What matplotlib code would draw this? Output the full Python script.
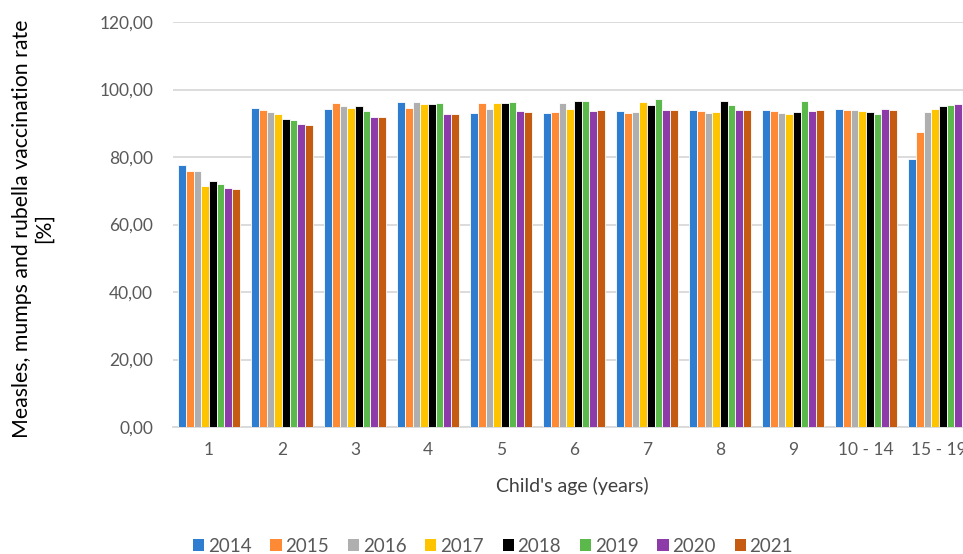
import matplotlib.pyplot as plt
import numpy as np
from matplotlib.patches import Patch

ages = ["1", "2", "3", "4", "5", "6", "7", "8", "9", "10 - 14", "15 - 19"]
years = ["2014", "2015", "2016", "2017", "2018", "2019", "2020", "2021"]

# vaccination rate per age group, one list per year
rate_2014 = [77.6, 94.6, 94.3, 96.3, 93.0, 93.0, 93.6, 93.9, 93.9, 94.2, 79.3]
rate_2015 = [76.0, 94.0, 96.0, 94.6, 96.0, 93.3, 93.0, 93.6, 93.6, 93.9, 87.5]
rate_2016 = [76.0, 93.4, 95.0, 96.3, 94.3, 96.0, 93.3, 93.0, 93.0, 93.9, 93.3]
rate_2017 = [71.4, 92.7, 94.6, 95.6, 96.0, 94.3, 96.3, 93.3, 92.7, 93.6, 94.3]
rate_2018 = [73.0, 91.4, 95.0, 95.7, 96.0, 96.6, 95.3, 96.6, 93.3, 93.3, 95.0]
rate_2019 = [72.1, 91.0, 93.6, 96.0, 96.3, 96.6, 97.2, 95.3, 96.6, 92.7, 95.3]
rate_2020 = [70.8, 89.8, 92.0, 92.7, 93.6, 93.6, 93.9, 93.9, 93.6, 94.2, 95.7]
rate_2021 = [70.4, 89.5, 92.0, 92.7, 93.3, 93.9, 93.9, 93.9, 93.9, 93.9, 94.6]

series = [rate_2014, rate_2015, rate_2016, rate_2017,
          rate_2018, rate_2019, rate_2020, rate_2021]
colors = ["#2E7DD0", "#FF8A35", "#AFAFAF", "#FFC400",
          "#000000", "#5BB84B", "#8E3BAA", "#C55A11"]

plt.rcParams['font.family'] = ['Lato', 'DejaVu Sans']

fig = plt.figure(figsize=(9.63, 5.54), dpi=100)
# right edge runs past the figure so the last group is cut off
ax = fig.add_axes([172.5 / 963, 1 - 427 / 554, 803 / 963, 405 / 554])

x = np.arange(len(ages))
pitch = 0.105
for i, (vals, c) in enumerate(zip(series, colors)):
    ax.bar(x + (i - 3.5) * pitch, vals, width=pitch, color=c,
           edgecolor="white", linewidth=0.6, zorder=3)

ax.set_xlim(-0.5, len(ages) - 0.5)
ax.set_ylim(0, 120)
ax.set_yticks(np.arange(0, 121, 20))
ax.set_yticklabels([f"{v:.2f}".replace(".", ",") for v in np.arange(0, 121, 20)])
ax.set_xticks(x)
ax.set_xticklabels(ages)
ax.grid(axis="y", color="#D9D9D9", linewidth=1.3, zorder=0)
ax.tick_params(axis="both", length=0, labelsize=12.5, colors="#595959", pad=11)
ax.tick_params(axis="y", pad=14)
for s in ["top", "right", "left"]:
    ax.spines[s].set_visible(False)
ax.spines["bottom"].set_color("#D9D9D9")
ax.spines["bottom"].set_linewidth(1.3)

ax.set_ylabel("Measles, mumps and rubella vaccination rate\n[%]",
              fontsize=15.3, color="#000000", linespacing=1.1)
ax.yaxis.set_label_coords((54 - 172.5) / 803, 0.49)
ax.set_xlabel("Child's age (years)", fontsize=14, color="#404040")
ax.xaxis.set_label_coords((572 - 172.5) / 803, (427 - 477) / 405)

handles = [Patch(facecolor=c, edgecolor="none") for c in colors]
fig.legend(handles, years, loc="center", bbox_to_anchor=(493 / 963, 1 - 546 / 554),
           ncol=8, frameon=False, fontsize=13.5, handlelength=0.6, handleheight=0.6,
           handletextpad=0.2, columnspacing=1.0, labelcolor="#595959")

fig.savefig("out.png", dpi=100)
